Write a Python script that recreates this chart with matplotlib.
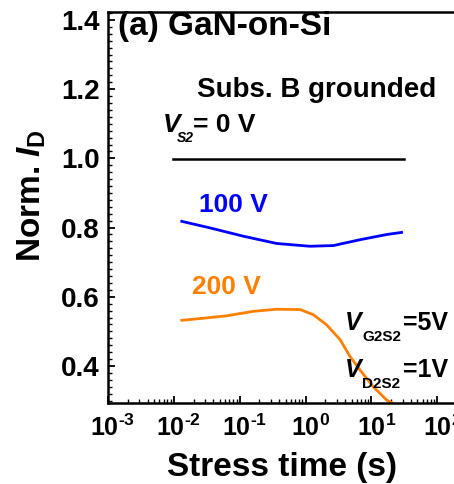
import numpy as np
import matplotlib.pyplot as plt
import matplotlib as mpl
import matplotlib.transforms as mtransforms
from matplotlib.ticker import LogLocator, MultipleLocator, NullFormatter

mpl.rcParams['font.family'] = 'Liberation Sans'
mpl.rcParams['font.weight'] = 'bold'
mpl.rcParams['mathtext.fontset'] = 'custom'
mpl.rcParams['mathtext.rm'] = 'Liberation Sans:bold'
mpl.rcParams['mathtext.it'] = 'Liberation Sans:bold:italic'
mpl.rcParams['mathtext.bf'] = 'Liberation Sans:bold'
mpl.rcParams['mathtext.default'] = 'rm'
mpl.rcParams['xtick.direction'] = 'in'
mpl.rcParams['ytick.direction'] = 'in'

W, H = 454, 484

# V_S2 = 0 V
t_0v = [0.0098, 31.0]
id_0v = [0.997, 0.997]

# V_S2 = 100 V
t_100v = [0.0132, 0.0355, 0.114, 0.366, 1.17, 2.65, 6.76, 17.2, 28.8]
id_100v = [0.818, 0.799, 0.775, 0.754, 0.746, 0.748, 0.765, 0.780, 0.786]

# V_S2 = 200 V
t_200v = [0.0132, 0.0282, 0.0637, 0.162, 0.366, 0.832, 1.32, 2.09, 3.36,
          4.76, 6.76, 10.7, 17.2, 22.9]
id_200v = [0.532, 0.538, 0.545, 0.558, 0.564, 0.563, 0.548, 0.519, 0.476,
           0.427, 0.388, 0.340, 0.301, 0.289]

xticks = [1e-3, 1e-2, 1e-1, 1e0, 1e1, 1e2]
xticklabels = [r'$10^{\text{-}3}$', r'$10^{\text{-}2}$', r'$10^{\text{-}1}$',
               r'$10^{0}$', r'$10^{1}$', r'$10^{2}$']
yticks = [0.4, 0.6, 0.8, 1.0, 1.2, 1.4]
yticklabels = ['0.4', '0.6', '0.8', '1.0', '1.2', '1.4']


def px(x, y):
    # pixel position from top-left -> figure fraction
    return x / W, 1 - y / H


def vlabel(ax, x, y, sub, rest, xs, xr, size=18, subsize=11, drop=11,
           color='black', subitalic=False):
    # italic V with a low subscript, then the remaining text
    fig = ax.figure
    ax.text(*px(x, y), 'V', transform=fig.transFigure, fontsize=size,
            style='italic', fontweight='bold', va='baseline', color=color)
    ax.text(*px(xs, y + drop), sub, transform=fig.transFigure,
            fontsize=subsize, fontweight='bold', va='baseline', color=color,
            style='italic' if subitalic else 'normal')
    ax.text(*px(xr, y), rest, transform=fig.transFigure, fontsize=size,
            fontweight='bold', va='baseline', color=color)


fig = plt.figure(figsize=(W / 100, H / 100), dpi=100)
# axes run past the right edge of the canvas
ax = fig.add_axes([108 / W, 81 / H, 395 / W, 391 / H])

ax.plot(t_0v, id_0v, color='black', lw=1.8)
ax.plot(t_100v, id_100v, color='#0000ff', lw=2.0)
ax.plot(t_200v, id_200v, color='#ff8000', lw=2.0)

ax.set_xscale('log')
ax.set_xlim(1e-3, 1e3)
ax.set_ylim(0.293, 1.423)
ax.set_xticks(xticks)
ax.set_xticklabels(xticklabels)
ax.xaxis.set_minor_locator(LogLocator(base=10, subs=np.arange(2, 10)))
ax.xaxis.set_minor_formatter(NullFormatter())
ax.set_yticks(yticks)
ax.set_yticklabels(yticklabels)
ax.yaxis.set_minor_locator(MultipleLocator(0.02))

ax.tick_params(which='major', length=5, width=1.3, pad=6)
ax.tick_params(axis='x', which='major', labelsize=18, pad=8)
ax.tick_params(axis='y', which='major', labelsize=20)
ax.tick_params(which='minor', length=3, width=1.0)
for s in ax.spines.values():
    s.set_linewidth(1.8)

# nudge the decade labels a little to the right
shift = mtransforms.ScaledTranslation(5 / 100, 0, fig.dpi_scale_trans)
for lab in ax.get_xticklabels():
    lab.set_transform(lab.get_transform() + shift)

ax.set_xlabel('Stress time (s)', fontsize=24, fontweight='bold')
ax.xaxis.set_label_coords(0.441, -0.125)
ax.set_ylabel(r'Norm. $\mathit{I}_{\mathrm{D}}$', fontsize=24,
              fontweight='bold')
ax.yaxis.set_label_coords(-0.152, 0.53)

ax.text(*px(118, 35), '(a) GaN-on-Si', transform=fig.transFigure,
        fontsize=24, fontweight='bold', va='baseline', ha='left')
ax.text(*px(197, 97), 'Subs. B grounded', transform=fig.transFigure,
        fontsize=20, fontweight='bold', va='baseline', ha='left')
ax.text(*px(199, 212), '100 V', transform=fig.transFigure, color='#0000ff',
        fontsize=19, fontweight='bold', va='baseline', ha='left')
ax.text(*px(192, 294), '200 V', transform=fig.transFigure, color='#ff8000',
        fontsize=19, fontweight='bold', va='baseline', ha='left')

vlabel(ax, 163, 132, 'S2', '= 0 V', 177, 193, size=19, subsize=10, drop=10,
       subitalic=True)
vlabel(ax, 345, 330, 'G2S2', '=5V', 362, 403)
vlabel(ax, 345, 377, 'D2S2', '=1V', 362, 403)

plt.savefig('out.png', dpi=100)
